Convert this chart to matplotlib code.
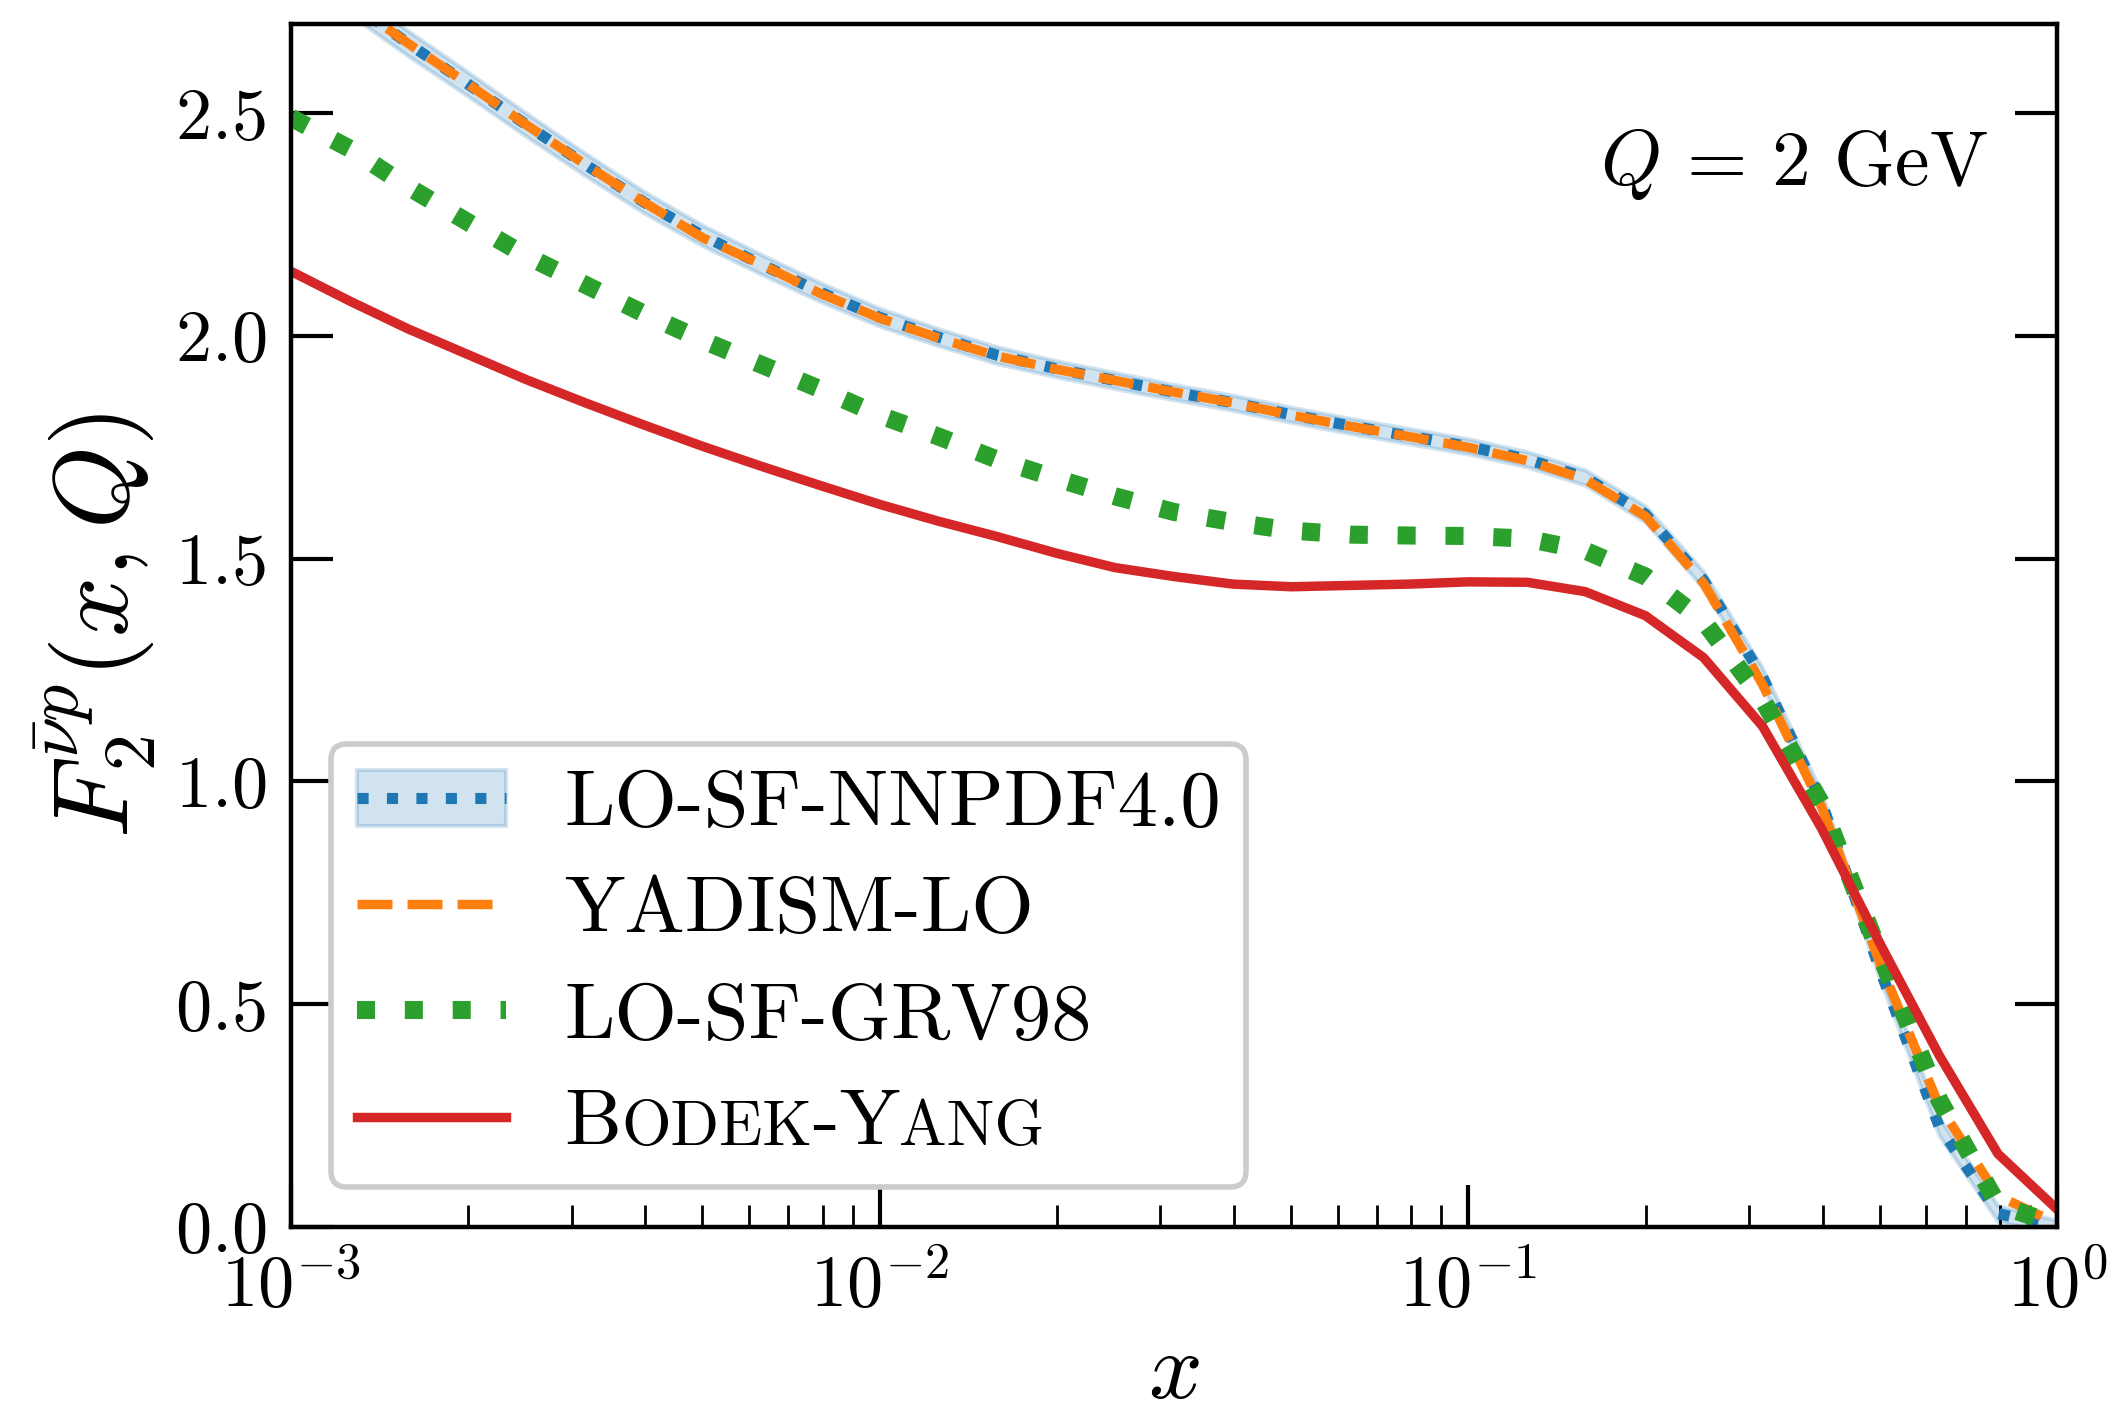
import numpy as np
import matplotlib
matplotlib.use("Agg")
import matplotlib.pyplot as plt
from matplotlib.offsetbox import TextArea, HPacker, AnnotationBbox

# ---------------- data ----------------
x_vals = [0.001, 0.00126, 0.00158, 0.002, 0.00251, 0.00316, 0.00398, 0.00501,
          0.00631, 0.00794, 0.01, 0.0126, 0.0158, 0.02, 0.0251, 0.0316, 0.0398,
          0.0501, 0.0631, 0.0794, 0.1, 0.126, 0.158, 0.2, 0.251, 0.316, 0.398,
          0.501, 0.631, 0.794, 1.0]

nnpdf_central = [2.86, 2.75, 2.657, 2.565, 2.474, 2.385, 2.30, 2.225, 2.16, 2.098,
                 2.042, 1.997, 1.957, 1.926, 1.900, 1.874, 1.850, 1.823, 1.798,
                 1.775, 1.752, 1.723, 1.682, 1.600, 1.452, 1.235, 0.955, 0.575,
                 0.225, 0.030, 0.0]
nnpdf_err = [0.030, 0.029, 0.028, 0.027, 0.026, 0.025, 0.024, 0.023, 0.022, 0.021,
             0.020, 0.019, 0.019, 0.018, 0.018, 0.017, 0.017, 0.017, 0.017, 0.017,
             0.017, 0.017, 0.017, 0.018, 0.019, 0.020, 0.021, 0.021, 0.020, 0.018,
             0.015]
yadism_lo = [2.86, 2.75, 2.657, 2.565, 2.474, 2.385, 2.30, 2.22, 2.16, 2.095,
             2.040, 1.995, 1.955, 1.925, 1.900, 1.874, 1.850, 1.822, 1.797,
             1.774, 1.750, 1.720, 1.678, 1.595, 1.445, 1.218, 0.944, 0.590,
             0.272, 0.070, 0.008]
grv98 = [2.49, 2.42, 2.335, 2.255, 2.18, 2.115, 2.05, 1.99, 1.935, 1.88,
         1.822, 1.774, 1.723, 1.680, 1.640, 1.605, 1.582, 1.563, 1.554, 1.552,
         1.551, 1.545, 1.518, 1.460, 1.360, 1.184, 0.950, 0.610, 0.285, 0.050,
         0.005]
bodek_yang = [2.145, 2.078, 2.016, 1.958, 1.902, 1.850, 1.800, 1.752, 1.707, 1.664,
              1.622, 1.584, 1.550, 1.512, 1.480, 1.460, 1.443, 1.437, 1.440,
              1.443, 1.448, 1.447, 1.426, 1.372, 1.278, 1.124, 0.895, 0.635,
              0.385, 0.164, 0.040]

labels = ["LO-SF-NNPDF4.0", "YADISM-LO", "LO-SF-GRV98", "Bodek-Yang"]
yticks = [0.0, 0.5, 1.0, 1.5, 2.0, 2.5]

# ---------------- style ----------------
plt.rcParams["font.family"] = ["cmr10", "DejaVu Serif"]
plt.rcParams["mathtext.fontset"] = "cm"
plt.rcParams["axes.formatter.use_mathtext"] = True
plt.rcParams["axes.unicode_minus"] = False

FS_LEG = 29
FS_TICK = 26
FS_LAB = 34

fig = plt.figure(figsize=(10.58, 7.08), dpi=200)
ax = fig.add_axes([0.1375, 0.1335, 0.8346, 0.8495])

x = np.array(x_vals)
c = np.array(nnpdf_central)
e = np.array(nnpdf_err)

band = ax.fill_between(x, c - e, c + e, color="C0", alpha=0.2, lw=1.5)
l1, = ax.plot(x, c, ls=":", color="C0", lw=4.0)
l2, = ax.plot(x, yadism_lo, ls="--", color="C1", lw=3.4)
l3, = ax.plot(x, grv98, ls=":", color="C2", lw=6.5)
l4, = ax.plot(x, bodek_yang, ls="-", color="C3", lw=3.4)

ax.set_xscale("log")
ax.set_xlim(1e-3, 1.0)
ax.set_ylim(0, 2.7)
ax.set_yticks(yticks)

for sp in ax.spines.values():
    sp.set_linewidth(1.6)
ax.tick_params(which="major", direction="in", length=15, width=1.5,
               right=True, top=False, labelsize=FS_TICK, pad=9)
ax.tick_params(which="minor", direction="in", length=8, width=1.0,
               right=False, top=False)
ax.tick_params(axis="y", which="minor", left=False, right=False)

ax.set_xlabel(r"$x$", fontsize=FS_LAB)
ax.set_ylabel(r"$F_2^{\bar{\nu} p}(x, Q)$", fontsize=FS_LAB + 4)
ax.xaxis.set_label_coords(0.5, -0.088)
ax.yaxis.set_label_coords(-0.075, 0.5)

ax.text(0.961, 0.866, r"$Q\,=\,2~\mathrm{GeV}$", transform=ax.transAxes,
        ha="right", va="baseline", fontsize=28)

leg = ax.legend([(band, l1), l2, l3, l4], labels, loc="lower left",
                fontsize=FS_LEG, frameon=True, fancybox=True,
                edgecolor="0.8", framealpha=1.0, labelspacing=0.42,
                handlelength=1.85, handletextpad=0.72, borderpad=0.32)
leg.get_frame().set_linewidth(2.0)

# small-caps rendering of the Bodek-Yang label
by_text = leg.get_texts()[3]
fig.canvas.draw()
r = fig.canvas.get_renderer()
bb = by_text.get_window_extent(r)
by_text.set_text("")
pieces = [("B", FS_LEG), ("ODEK", FS_LEG * 0.79), ("-", FS_LEG),
          ("Y", FS_LEG), ("ANG", FS_LEG * 0.79)]
areas = [TextArea(s, textprops=dict(fontsize=f, family="cmr10")) for s, f in pieces]
pack = HPacker(children=areas, align="baseline", pad=0, sep=0)
ab = AnnotationBbox(pack, (bb.x0, bb.y0), xycoords="figure pixels",
                    box_alignment=(0, 0), frameon=False, pad=0,
                    annotation_clip=False)
ab.set_zorder(10)
fig.add_artist(ab)

fig.savefig("out.png", dpi=200)
